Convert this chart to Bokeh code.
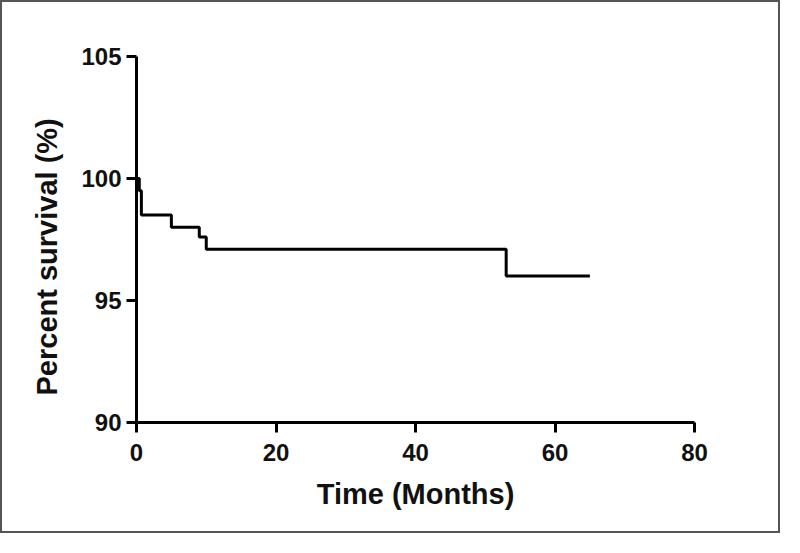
from bokeh.plotting import figure
from bokeh.embed import file_html
from bokeh.resources import INLINE
from bokeh.models import FixedTicker, Range1d, Title

months = [0, 0.4, 0.7, 5, 9, 10, 53, 65]
survival = [100, 99.5, 98.5, 98.0, 97.6, 97.1, 96.0, 96.0]
x_ticks = [0, 20, 40, 60, 80]
y_ticks = [90, 95, 100, 105]

p = figure(width=780, height=533, output_backend="svg", toolbar_location=None,
           x_range=Range1d(0, 80), y_range=Range1d(90, 105),
           min_border_left=134, min_border_right=88, min_border_top=54, min_border_bottom=113)
p.styles = {"border": "2px solid #555"}

p.step(months, survival, mode="after", line_width=3, line_color="black")

p.outline_line_color = None
p.xgrid.visible = False
p.ygrid.visible = False

for ax in (p.xaxis[0], p.yaxis[0]):
    ax.axis_line_width = 3
    ax.major_tick_line_width = 3
    ax.major_tick_out = 10
    ax.major_tick_in = 0
    ax.minor_tick_line_color = None
    ax.major_label_text_font = "Liberation Sans"
    ax.major_label_text_font_style = "bold"
    ax.major_label_text_font_size = "24px"
    ax.major_label_text_color = "#111"
    ax.axis_label_text_font = "Liberation Sans"
    ax.axis_label_text_font_style = "bold"
    ax.axis_label_text_font_size = "29px"
    ax.axis_label_text_color = "#111"

p.xaxis.ticker = FixedTicker(ticks=x_ticks)
p.yaxis.ticker = FixedTicker(ticks=y_ticks)
p.xaxis.axis_label = "Time (Months)"
p.xaxis.axis_label_standoff = 14
p.xaxis.major_label_standoff = 11
p.yaxis.major_label_standoff = 5

ylab = Title(text="Percent survival (%)", align="left", offset=27, standoff=32,
             text_font="Liberation Sans", text_font_style="bold",
             text_font_size="29px", text_color="#111")
p.add_layout(ylab, "left")

open("out.html", "w").write(file_html(p, INLINE))
